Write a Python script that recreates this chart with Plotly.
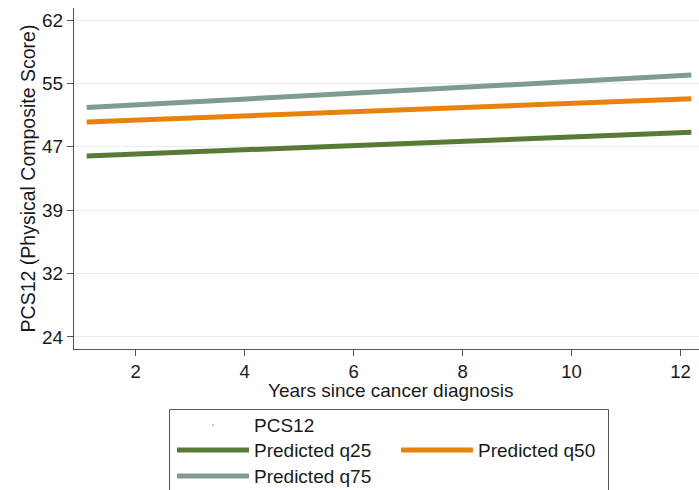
import plotly.graph_objects as go

# ---- data ----
years = [1.1, 4, 8, 12.2]
q25 = [45.85, 46.6, 47.65, 48.7]
q50 = [49.95, 50.7, 51.7, 52.75]
q75 = [51.7, 52.7, 54.1, 55.6]
y_tickvals = [24.0, 31.65, 39.3, 46.95, 54.6, 62.25]
y_ticktext = ["24", "32", "39", "47", "55", "62"]
x_tickvals = [2, 4, 6, 8, 10, 12]
x_title = "Years since cancer diagnosis"
y_title = "PCS12 (Physical Composite Score)"

W, H = 699, 490
L, R, T, B = 74, 0, 8, 141
FONT = "Liberation Sans, Arial, sans-serif"
TXT = "#1a1a1a"
LFS = 19  # legend font size

def px_x(px):  # pixel -> paper x
    return (px - L) / (W - L - R)

def px_y(py):  # pixel -> paper y
    return (H - B - py) / (H - B - T)

def leg(xpx, center_py):
    return dict(x=px_x(xpx), y=px_y(center_py - 20.5), xanchor="left", yanchor="top",
                bgcolor="rgba(0,0,0,0)", borderwidth=0,
                font=dict(family=FONT, size=LFS, color=TXT), itemwidth=72)

fig = go.Figure()
fig.add_trace(go.Scatter(x=[None], y=[None], mode="markers", name="PCS12",
                         marker=dict(size=2, color="#b0b0b0"), legend="legend"))
fig.add_trace(go.Scatter(x=years, y=q25, mode="lines", name="Predicted q25",
                         line=dict(color="#587a34", width=5), legend="legend2"))
fig.add_trace(go.Scatter(x=years, y=q50, mode="lines", name="Predicted q50",
                         line=dict(color="#e8820c", width=5), legend="legend4"))
fig.add_trace(go.Scatter(x=years, y=q75, mode="lines", name="Predicted q75",
                         line=dict(color="#7f9c8f", width=5), legend="legend3"))

fig.update_layout(
    width=W, height=H,
    margin=dict(l=L, r=R, t=T, b=B, autoexpand=False),
    paper_bgcolor="white", plot_bgcolor="white",
    font=dict(family=FONT, size=19, color=TXT),
    showlegend=True,
    legend=leg(172, 426.7),
    legend2=leg(172, 451.7),
    legend3=leg(172, 477.7),
    legend4=leg(396, 451.7),
    shapes=[dict(type="rect", xref="paper", yref="paper",
                 x0=px_x(169.5), x1=px_x(608.5), y0=px_y(496), y1=px_y(409.5),
                 line=dict(color="#555555", width=1), fillcolor="rgba(0,0,0,0)")],
    annotations=[dict(text=x_title, xref="paper", yref="paper",
                      x=px_x(390), y=px_y(390.5), xanchor="center", yanchor="middle",
                      showarrow=False, font=dict(family=FONT, size=19, color=TXT))],
)

fig.update_xaxes(range=[0.867, 12.34], tickvals=x_tickvals, automargin=False,
                 ticks="outside", ticklen=6, tickcolor="#555555", tickwidth=1,
                 showline=True, linecolor="#555555", linewidth=1,
                 showgrid=False, zeroline=False,
                 tickfont=dict(family=FONT, size=18.5, color=TXT))
fig.update_yaxes(range=[22.55, 63.7], tickvals=y_tickvals, ticktext=y_ticktext,
                 automargin=False,
                 ticks="outside", ticklen=6, tickcolor="#555555", tickwidth=1,
                 showline=True, linecolor="#555555", linewidth=1,
                 showgrid=True, gridcolor="#e8eff2", gridwidth=1, zeroline=False,
                 tickfont=dict(family=FONT, size=19, color=TXT),
                 title=dict(text=y_title, standoff=1,
                            font=dict(family=FONT, size=19.5, color=TXT)))

fig.write_html("out.html", config={"displayModeBar": False},
               post_script="document.body.style.margin='0';document.body.style.overflow='hidden';")
